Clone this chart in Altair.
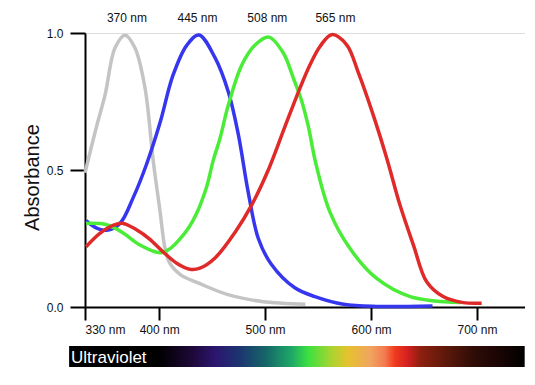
import altair as alt
import pandas as pd

# ---- data ----
gray_nm = [330, 341, 349, 358.3, 367.8, 377.2, 386.6, 394.5, 400.8, 405.5, 410, 420, 438.5, 465, 497, 538]
gray_ab = [0.49, 0.66, 0.775, 0.945, 0.992, 0.945, 0.80, 0.53, 0.35, 0.215, 0.16, 0.118, 0.085, 0.045, 0.02, 0.01]

blue_nm = [331, 340, 350.5, 363, 375.6, 388, 401, 413, 426, 437.5, 452.7, 465.3, 474.7, 484,
           493.6, 506, 528, 547, 574, 605, 658]
blue_ab = [0.315, 0.29, 0.28, 0.305, 0.40, 0.52, 0.675, 0.845, 0.955, 0.993, 0.91, 0.785, 0.63, 0.42,
           0.25, 0.155, 0.07, 0.038, 0.01, 0.002, 0.004]

green_nm = [331, 350.5, 366, 382, 401, 411, 420, 428, 435.4, 444.9, 451.1, 457.4, 465.3, 478, 490.5,
            503.5, 517.2, 526.6, 534.5, 540.8, 547.5, 561, 580, 605, 637, 685]
green_ab = [0.305, 0.30, 0.27, 0.226, 0.198, 0.215, 0.25, 0.29, 0.342, 0.44, 0.536, 0.615, 0.737,
            0.883, 0.956, 0.985, 0.927, 0.836, 0.752, 0.659, 0.53, 0.348, 0.214, 0.105, 0.038, 0.016]

red_nm = [331, 344, 357, 366, 379, 391, 404, 416.5, 429, 438.5, 453, 472, 487, 503, 518.8,
          532.9, 542.4, 551.8, 562.8, 577, 588, 602, 614.8, 627.3, 640, 652.5, 668, 687, 704.4]
red_ab = [0.22, 0.269, 0.299, 0.305, 0.281, 0.248, 0.20, 0.16, 0.138, 0.142, 0.18, 0.275, 0.37,
          0.50, 0.659, 0.799, 0.884, 0.951, 0.994, 0.957, 0.855, 0.701, 0.543, 0.372, 0.226,
          0.092, 0.038, 0.016, 0.014]

series = ["gray", "blue", "green", "red"]
colors = ["#c4c4c4", "#3636ee", "#4aec37", "#e02a2a"]

peak_labels = ["370 nm", "445 nm", "508 nm", "565 nm"]
peak_nm = [369.6, 436.2, 502.1, 566.4]

x_ticks = [330, 400, 500, 600, 700]
y_ticks = [0.0, 0.5, 1.0]

band_nm = [315, 745]
band_ab = [-0.142, -0.219]
spectrum_stops = [
    (0.0, "#000000"), (0.198, "#000000"), (0.27, "#1e0838"), (0.322, "#2c1670"),
    (0.373, "#1c3470"), (0.431, "#156668"), (0.488, "#1ea868"), (0.525, "#3ce040"),
    (0.575, "#a8d430"), (0.612, "#e6c22e"), (0.662, "#f0a460"), (0.693, "#f47a50"),
    (0.715, "#f03a1e"), (0.743, "#d42020"), (0.771, "#8e2010"), (0.83, "#5a180a"),
    (0.889, "#2e0c06"), (0.954, "#160404"), (1.0, "#000000"),
]

# ---- build tables ----
rows = []
for name, xs, ys in zip(series, [gray_nm, blue_nm, green_nm, red_nm],
                        [gray_ab, blue_ab, green_ab, red_ab]):
    for i, (x, y) in enumerate(zip(xs, ys)):
        rows.append({"series": name, "nm": x, "ab": y, "i": i})
df = pd.DataFrame(rows)

lab_df = pd.DataFrame({"label": peak_labels, "nm": peak_nm})
band_df = pd.DataFrame({"x": [band_nm[0]], "x2": [band_nm[1]], "y": [band_ab[0]], "y2": [band_ab[1]]})
uv_df = pd.DataFrame({"t": ["Ultraviolet"], "nm": [band_nm[0] + 1.8], "ab": [-0.2055]})

FONT = "Liberation Sans"
x_scale = alt.Scale(domain=[330, 745.3], nice=False, zero=False)
y_scale = alt.Scale(domain=[0, 1], nice=False, zero=False)

lines = alt.Chart(df).mark_line(interpolate="catmull-rom", strokeWidth=3.5).encode(
    x=alt.X("nm:Q", scale=x_scale, axis=alt.Axis(
        values=x_ticks, labelExpr="datum.value + ' nm'", title=None, grid=False,
        domainColor="black", domainWidth=2, tickColor="black", tickWidth=2, tickSize=13,
        labelPadding=4, labelFont=FONT, labelFontSize=12, labelColor="#111111")),
    y=alt.Y("ab:Q", scale=y_scale, axis=alt.Axis(
        values=y_ticks, format=".1f", title="Absorbance", grid=False,
        domainColor="black", domainWidth=2, tickColor="black", tickWidth=2, tickSize=15,
        labelPadding=7, labelFont=FONT, labelFontSize=12, labelColor="#111111",
        titleFont=FONT, titleFontSize=20, titleFontWeight="normal", titleColor="#111111",
        titleAngle=270, titleBaseline="alphabetic", titleX=-47, titleY=144)),
    color=alt.Color("series:N", scale=alt.Scale(domain=series, range=colors), legend=None),
    order="i:Q",
)

labels = alt.Chart(lab_df).mark_text(font=FONT, fontSize=12, color="#111111",
                                     baseline="middle", align="center").encode(
    x=alt.X("nm:Q", scale=x_scale),
    y=alt.datum(1.055),
    text="label:N",
)

grad = alt.LinearGradient(
    gradient="linear", x1=0, x2=1, y1=0, y2=0,
    stops=[alt.GradientStop(offset=o, color=c) for o, c in spectrum_stops],
)
band = alt.Chart(band_df).mark_rect(fill=grad).encode(
    x=alt.X("x:Q", scale=x_scale), x2="x2:Q",
    y=alt.Y("y:Q", scale=y_scale), y2="y2:Q",
)
uv = alt.Chart(uv_df).mark_text(font=FONT, fontSize=17, color="white",
                                align="left", baseline="alphabetic").encode(
    x=alt.X("nm:Q", scale=x_scale),
    y=alt.Y("ab:Q", scale=y_scale),
    text="t:N",
)

chart = alt.layer(band, uv, lines, labels).properties(
    width=440, height=274,
    autosize=alt.AutoSizeParams(type="none"),
    padding={"left": 77, "top": 25, "right": 0, "bottom": 60},
).configure_view(stroke=None).configure(background="white")

chart.save("out.html", embed_options={"renderer": "svg", "actions": False})
